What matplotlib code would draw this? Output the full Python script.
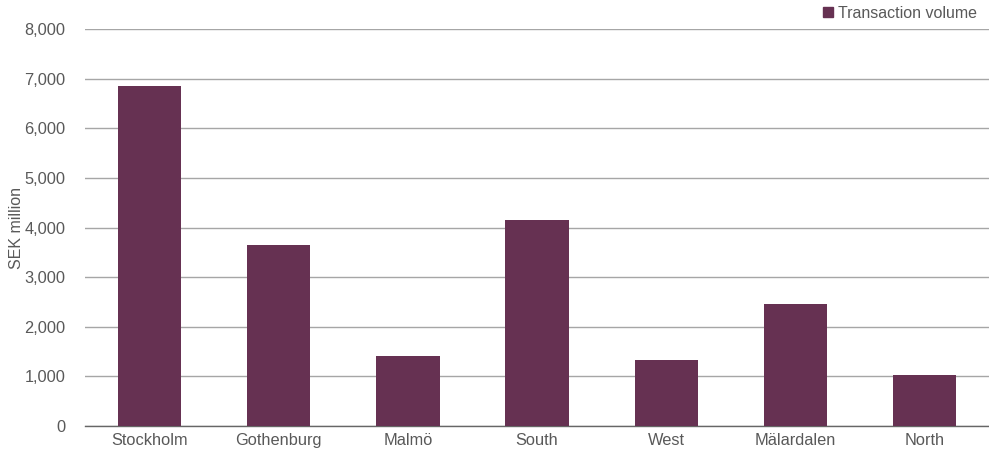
import matplotlib
matplotlib.use("Agg")
import matplotlib.pyplot as plt
from matplotlib.lines import Line2D
from matplotlib.ticker import FuncFormatter

plt.rcParams['font.family'] = ['Liberation Sans', 'DejaVu Sans']

regions = ["Stockholm", "Gothenburg", "Malmö", "South", "West", "Mälardalen", "North"]
volume = [6850, 3640, 1410, 4150, 1330, 2450, 1030]
series_name = "Transaction volume"

bar_color = "#663152"
text_color = "#595959"
grid_color = "#a6a6a6"

fig = plt.figure(figsize=(9.89, 4.54), dpi=100)
ax = fig.add_axes([0.086, 0.0617, 0.914, 0.8738])

x = range(len(regions))
ax.bar(x, volume, width=0.49, color=bar_color, zorder=3)

ax.set_xlim(-0.5, len(regions) - 0.5)
ax.set_ylim(0, 8000)
ax.set_yticks(range(0, 8001, 1000))
ax.yaxis.set_major_formatter(FuncFormatter(lambda v, p: f"{int(v):,}"))
ax.set_xticks(list(x))
ax.set_xticklabels(regions)

ax.grid(axis='y', color=grid_color, linewidth=1.0, zorder=0)
for s in ['top', 'right', 'left']:
    ax.spines[s].set_visible(False)
ax.spines['bottom'].set_color('#666666')
ax.spines['bottom'].set_linewidth(1.0)
ax.tick_params(axis='both', length=0, labelsize=11.8, colors=text_color)
ax.tick_params(axis='y', pad=14)
ax.tick_params(axis='x', pad=5)

ax.set_ylabel("SEK million", fontsize=11.5, color=text_color, labelpad=0)

handle = Line2D([], [], marker='s', linestyle='none', color=bar_color, markersize=7)
fig.legend([handle], [series_name], loc='upper right', bbox_to_anchor=(977 / 989, 1 - 6 / 454),
           frameon=False, fontsize=11.5, labelcolor=text_color, handletextpad=0.1,
           borderaxespad=0, borderpad=0, handlelength=1.0)

fig.savefig("out.png", dpi=100)
